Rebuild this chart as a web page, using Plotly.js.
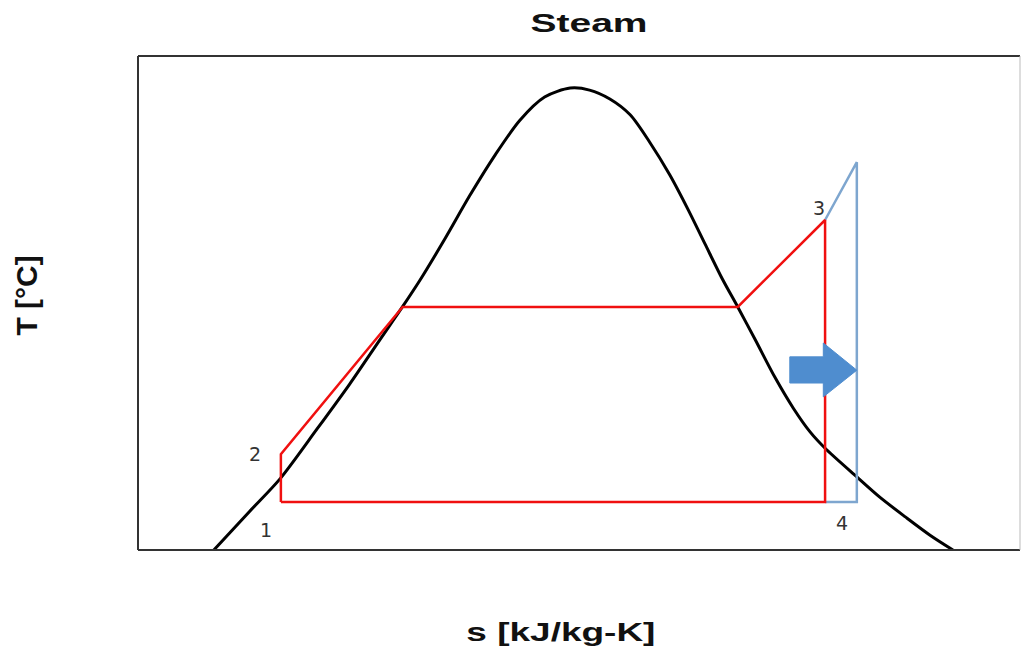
<!DOCTYPE html>
<html>
<head>
<meta charset="utf-8">
<script src="https://cdn.plot.ly/plotly-3.0.1.min.js"></script>
<style>
  html, body { margin: 0; padding: 0; background: #ffffff; }
  #chart { width: 1021px; height: 650px; }
</style>
</head>
<body>
<div id="chart"></div>
<script>
// Saturation dome (arbitrary entropy / temperature units)
const domeS = [0.86, 1.27, 1.61, 2.03, 2.40, 2.74, 2.99, 3.20, 3.48, 3.76, 4.05, 4.33, 4.61, 4.90,
               5.12, 5.35, 5.58, 5.80, 6.03, 6.24, 6.43, 6.63, 6.80, 7.00, 7.22, 7.43, 7.62, 7.79,
               8.15, 8.41, 8.70, 8.98, 9.24];
const domeT = [0.0, 7.9, 14.4, 24.5, 33.6, 42.5, 49.0, 54.7, 63.0, 71.7, 80.0, 87.0, 91.7, 93.5,
               93.1, 91.3, 88.1, 82.6, 75.9, 68.8, 61.9, 54.7, 49.2, 42.5, 35.0, 28.7, 23.9, 20.6,
               14.8, 10.7, 6.7, 3.0, 0.0];

// Rankine cycle: 1 -> 2 -> saturated liquid -> saturated vapour -> 3 -> 4 -> 1
const cycleS = [1.62, 1.62, 3.00, 6.80, 7.79, 7.79, 1.62];
const cycleT = [9.7, 19.4, 49.2, 49.2, 66.8, 9.7, 9.7];

// Cycle with higher superheat
const superS = [7.79, 8.15, 8.15, 7.79];
const superT = [66.8, 78.5, 9.7, 9.7];

// Arrow outline
const arrowS = [7.39, 7.77, 7.77, 8.15, 7.77, 7.77, 7.39, 7.39];
const arrowT = [39.1, 39.1, 41.9, 36.4, 31.0, 33.8, 33.8, 39.1];

// State point labels
const stateLabels = ["1", "2", "3", "4"];
const stateS = [1.62, 1.62, 7.79, 7.79];
const stateT = [9.7, 19.4, 66.8, 9.7];
const labelShiftX = [-15, -26, -6, 17];
const labelShiftY = [-28, 0, 12, -21];

const chartTitle = 'Steam';
const xTitle = 's [kJ/kg-K]';
const yTitle = 'T [°C]';

const traces = [
  { x: domeS, y: domeT, mode: 'lines', line: { color: '#000000', width: 3, shape: 'spline', smoothing: 0.8 }, hoverinfo: 'skip' },
  { x: superS, y: superT, mode: 'lines', line: { color: '#7EA6CF', width: 2.5 }, hoverinfo: 'skip' },
  { x: cycleS, y: cycleT, mode: 'lines', line: { color: '#F01010', width: 2.5 }, hoverinfo: 'skip' },
  { x: arrowS, y: arrowT, mode: 'lines', fill: 'toself', fillcolor: '#4F8DCF', line: { color: '#4F8DCF', width: 1 }, hoverinfo: 'skip' }
];

const annotations = stateLabels.map((t, i) => ({
  x: stateS[i], y: stateT[i], xref: 'x', yref: 'y', text: t, showarrow: false,
  xshift: labelShiftX[i], yshift: labelShiftY[i],
  font: { family: 'DejaVu Sans, Verdana, sans-serif', size: 19, color: '#333333' }
}));

const boldFont = (size) => ({ family: 'Liberation Sans, Arial, sans-serif', size: size, color: '#111111', weight: 'bold' });

annotations.push({
  text: chartTitle, xref: 'paper', yref: 'paper', x: 0.511, y: 1, yanchor: 'middle', yshift: 33,
  showarrow: false, font: boldFont(26)
});
annotations.push({
  text: xTitle, xref: 'paper', yref: 'paper', x: 0.48, y: 0, yanchor: 'middle', yshift: -82,
  showarrow: false, font: boldFont(25)
});
annotations.push({
  text: yTitle, xref: 'paper', yref: 'paper', x: 0, xanchor: 'center', xshift: -111, y: 0.515,
  yanchor: 'middle', textangle: -90, showarrow: false, font: boldFont(30)
});

const layout = {
  width: 1021, height: 650,
  margin: { l: 138, r: 1, t: 56, b: 100 },
  paper_bgcolor: '#ffffff', plot_bgcolor: '#ffffff',
  showlegend: false,
  xaxis: { range: [0, 10], showgrid: false, zeroline: false, showticklabels: false, ticks: '', showline: false, fixedrange: true },
  yaxis: { range: [0, 100], showgrid: false, zeroline: false, showticklabels: false, ticks: '', showline: false, fixedrange: true },
  annotations: annotations,
  shapes: [
    { type: 'line', xref: 'paper', yref: 'paper', x0: 0, x1: 0, y0: 0, y1: 1, line: { color: '#333333', width: 2 } },
    { type: 'line', xref: 'paper', yref: 'paper', x0: 0, x1: 1, y0: 1, y1: 1, line: { color: '#333333', width: 2 } },
    { type: 'line', xref: 'paper', yref: 'paper', x0: 0, x1: 1, y0: 0, y1: 0, line: { color: '#333333', width: 2 } },
    { type: 'line', xref: 'paper', yref: 'paper', x0: 1, x1: 1, y0: 0, y1: 1, line: { color: '#bbbbbb', width: 1 } }
  ]
};

// Widen the bold heading texts horizontally about their own centres
function widenText(index, sx) {
  const t = document.querySelector('.annotation[data-index="' + index + '"] text.annotation-text');
  if (!t) return;
  const bb = t.getBBox();
  const cx = bb.x + bb.width / 2;
  t.setAttribute('transform', 'translate(' + cx + ',0) scale(' + sx + ',1) translate(' + (-cx) + ',0)');
}

Plotly.newPlot('chart', traces, layout, { staticPlot: true, displayModeBar: false }).then(() => {
  const n = stateLabels.length;
  widenText(n, 1.5);
  widenText(n + 1, 1.48);
});
</script>
</body>
</html>
